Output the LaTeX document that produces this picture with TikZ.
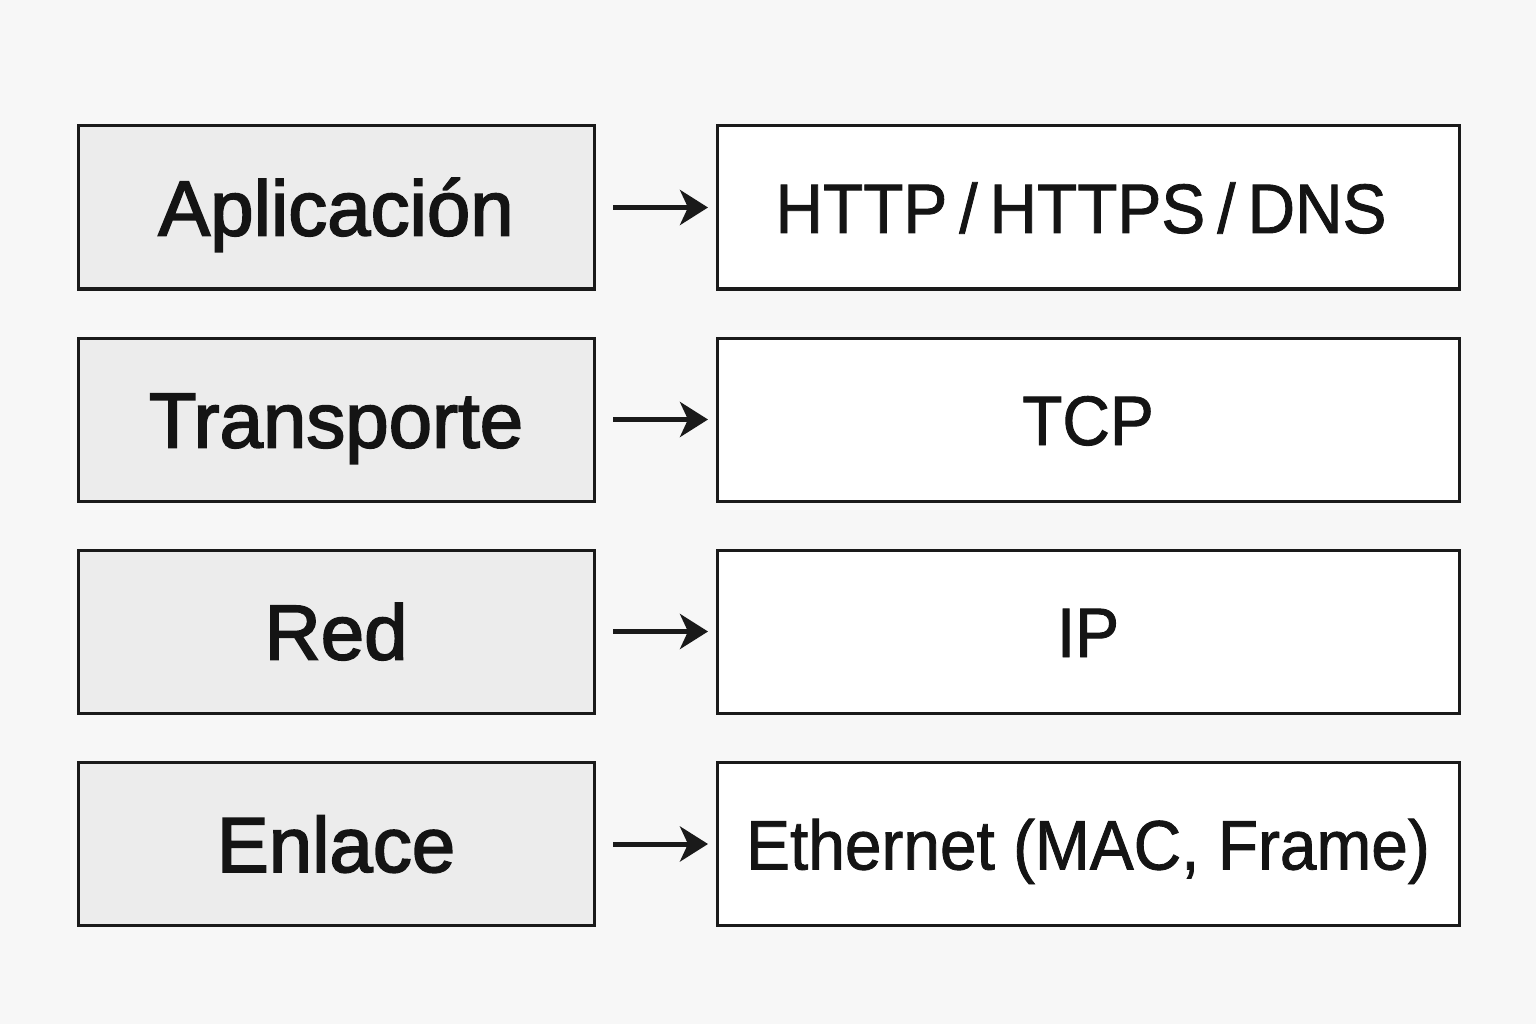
\documentclass[tikz,border=0pt]{standalone}
\usepackage{fontspec}
\setmainfont{Liberation Sans}
\newfontfamily\leftfont[FakeBold=2.2]{Liberation Sans}
\newfontfamily\rightfont[FakeStretch=0.94,FakeBold=1.2]{Liberation Sans}
\usetikzlibrary{arrows.meta}
\definecolor{bgcol}{HTML}{F7F7F7}
\definecolor{leftfill}{HTML}{ECECEC}
\definecolor{edgecol}{HTML}{1A1A1A}
\definecolor{txtcol}{HTML}{141414}
\tikzset{
  layerbox/.style={draw=edgecol, line width=3pt, fill=leftfill, minimum width=516pt, minimum height=163pt, inner sep=0pt, outer sep=0pt, text=txtcol, text height=56pt, text depth=0pt, font=\leftfont\fontsize{78}{80}\selectfont},
  protobox/.style={draw=edgecol, line width=3pt, fill=white, minimum width=742pt, minimum height=163pt, inner sep=0pt, outer sep=0pt, text=txtcol, text height=51pt, text depth=0pt, font=\rightfont\fontsize{70}{72}\selectfont},
  maparrow/.style={draw=edgecol, line width=5pt, -{Stealth[length=28pt,width=35pt,inset=8pt]}, shorten <=19pt, shorten >=9pt}
}
\begin{document}
\begin{tikzpicture}[x=1pt,y=-1pt]
\fill[bgcol] (0,0) rectangle (1536,1024);
\useasboundingbox (0,0) rectangle (1536,1024);
\node[layerbox] (l1) at (336,207.5) {Aplicación};
\node[layerbox] (l2) at (336,419.5) {Transporte};
\node[layerbox] (l3) at (336,631.5) {Red};
\node[layerbox] (l4) at (336,844) {Enlace};
\node[protobox] (r1) at (1088,207.5) {\kern-14pt HTTP\kern 12pt/\kern 12pt HTTPS\kern 12pt/\kern 12pt DNS};
\node[protobox] (r2) at (1088,419.5) {TCP};
\node[protobox] (r3) at (1088,631.5) {IP};
\node[protobox] (r4) at (1088,844) {Ethernet (MAC, Frame)};
\draw[maparrow] (l1) -- (r1);
\draw[maparrow] (l2) -- (r2);
\draw[maparrow] (l3) -- (r3);
\draw[maparrow] (l4) -- (r4);
\end{tikzpicture}
\end{document}
